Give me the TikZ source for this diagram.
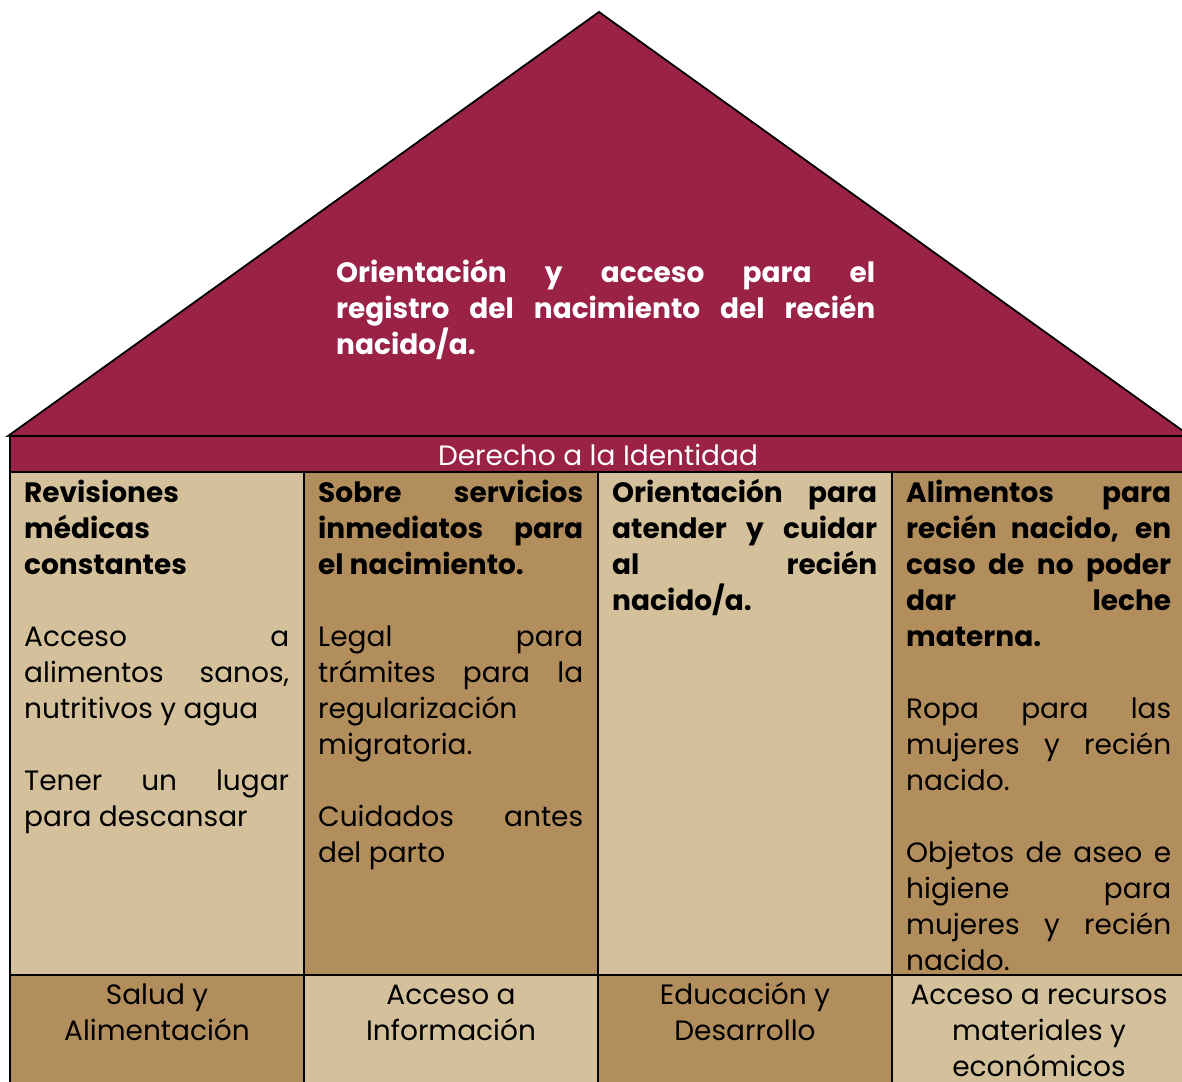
\documentclass[tikz,border=0pt]{standalone}
\usepackage{fontspec}
\setmainfont{Poppins}
\definecolor{guinda}{HTML}{9B2247}
\definecolor{tanl}{HTML}{D4C19C}
\definecolor{tand}{HTML}{B38E5D}
\newcommand{\loosejust}{\tolerance=10000\relax\hbadness=10000\relax}
\begin{document}
\begin{tikzpicture}[x=1pt,y=-1pt,
  outl/.style={draw=black,line width=1.8pt},
  coltext/.style={anchor=base west,text width=265pt,align=justify,inner sep=0pt,
    font=\fontsize{28}{36}\selectfont},
  bottext/.style={anchor=base,align=center,inner sep=0pt,
    font=\fontsize{28}{36}\selectfont},
  rooftext/.style={anchor=base west,text width=539pt,align=justify,inner sep=0pt,text=white,
    font=\fontsize{28}{36}\selectfont\bfseries},
  bandtext/.style={anchor=center,inner sep=0pt,text=white,font=\fontsize{28}{30}\selectfont}]
\useasboundingbox (0,0) rectangle (1182,1081);
\clip (0,0) rectangle (1182,1081);
% roof
\filldraw[fill=guinda,outl] (599,12) -- (8,436) -- (1190,436) -- cycle;
\filldraw[fill=guinda,outl] (10,436) rectangle (1190,472);
% columns
\filldraw[fill=tanl,outl] (10,472) rectangle (304,975);
\filldraw[fill=tand,outl] (304,472) rectangle (598,975);
\filldraw[fill=tanl,outl] (598,472) rectangle (892,975);
\filldraw[fill=tand,outl] (892,472) rectangle (1190,975);
\filldraw[fill=tand,outl] (10,975) rectangle (304,1095);
\filldraw[fill=tanl,outl] (304,975) rectangle (598,1095);
\filldraw[fill=tand,outl] (598,975) rectangle (892,1095);
\filldraw[fill=tanl,outl] (892,975) rectangle (1190,1095);
% texts
\node[rooftext] (roof) at (336,282) {\loosejust Orientación y acceso para el\linebreak registro del nacimiento del recién\linebreak nacido/a.};
\node[bandtext] (band) at (598,455) {Derecho a la Identidad};
\node[coltext] (c1) at (24,502) {\loosejust{\bfseries Revisiones\\ médicas\\ constantes}\par\vspace{36pt}
Acceso a\linebreak alimentos sanos,\linebreak nutritivos y agua\par\vspace{36pt}
Tener un lugar\linebreak para descansar};
\node[coltext] (c2) at (318,502) {\loosejust{\bfseries Sobre servicios\linebreak inmediatos para\linebreak el nacimiento.}\par\vspace{36pt}
Legal para\linebreak trámites para la\linebreak regularización\\ migratoria.\par\vspace{36pt}
Cuidados antes\linebreak del parto};
\node[coltext] (c3) at (612,502) {\loosejust{\bfseries Orientación para\linebreak atender y cuidar\linebreak al recién\linebreak nacido/a.}};
\node[coltext] (c4) at (906,502) {\loosejust{\bfseries Alimentos para\linebreak recién nacido, en\linebreak caso de no poder\linebreak dar leche\linebreak materna.}\par\vspace{36pt}
Ropa para las\linebreak mujeres y recién\linebreak nacido.\par\vspace{36pt}
Objetos de aseo e\linebreak higiene para\linebreak mujeres y recién\linebreak nacido.};
\node[bottext] (b1) at (157,1040) {Salud y\\ Alimentación};
\node[bottext] (b2) at (451,1040) {Acceso a\\ Información};
\node[bottext] (b3) at (745,1040) {Educación y\\ Desarrollo};
\node[bottext] (b4) at (1039,1076) {Acceso a recursos\\ materiales y\\ económicos};
\end{tikzpicture}
\end{document}
